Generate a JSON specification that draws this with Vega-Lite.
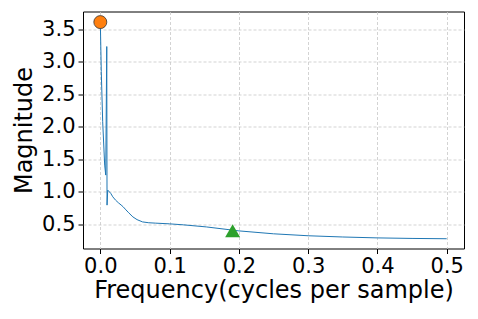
{
  "$schema": "https://vega.github.io/schema/vega-lite/v6.json",
  "autosize": "none",
  "width": 381,
  "height": 237,
  "padding": {"left": 83, "top": 11.5, "right": 14, "bottom": 70.5},
  "background": "white",
  "config": {
    "view": {"stroke": "black", "strokeWidth": 1},
    "font": "DejaVu Sans",
    "axis": {
      "domain": false,
      "grid": true,
      "gridColor": "#c8c8c8",
      "gridDash": [3, 2],
      "gridWidth": 0.8,
      "tickColor": "black",
      "tickSize": 5,
      "tickWidth": 1,
      "labelFont": "DejaVu Sans",
      "labelFontSize": 21,
      "labelColor": "black",
      "labelOverlap": false,
      "labelFlush": false,
      "titleFont": "DejaVu Sans",
      "titleFontSize": 24,
      "titleFontWeight": "normal",
      "titleColor": "black"
    }
  },
  "datasets": {
    "curve": [
      {"f": 0, "m": 3.608},
      {"f": 0.0014, "m": 2.847},
      {"f": 0.0034, "m": 2.076},
      {"f": 0.0063, "m": 1.409},
      {"f": 0.0078, "m": 1.255},
      {"f": 0.0093, "m": 3.232},
      {"f": 0.0097, "m": 0.793},
      {"f": 0.0107, "m": 1.024},
      {"f": 0.015, "m": 0.975},
      {"f": 0.018, "m": 0.921},
      {"f": 0.022, "m": 0.87},
      {"f": 0.026, "m": 0.83},
      {"f": 0.03, "m": 0.795},
      {"f": 0.033, "m": 0.767},
      {"f": 0.037, "m": 0.72},
      {"f": 0.041, "m": 0.675},
      {"f": 0.047, "m": 0.612},
      {"f": 0.053, "m": 0.57},
      {"f": 0.061, "m": 0.535},
      {"f": 0.07, "m": 0.522},
      {"f": 0.08, "m": 0.516},
      {"f": 0.1, "m": 0.505},
      {"f": 0.12, "m": 0.49},
      {"f": 0.153, "m": 0.458},
      {"f": 0.2, "m": 0.397},
      {"f": 0.25, "m": 0.352},
      {"f": 0.3, "m": 0.322},
      {"f": 0.35, "m": 0.303},
      {"f": 0.4, "m": 0.289},
      {"f": 0.45, "m": 0.281},
      {"f": 0.5, "m": 0.276}
    ],
    "peak": [{"f": 0, "m": 3.608}],
    "mark2": [{"f": 0.191, "m": 0.4}]
  },
  "layer": [
    {
      "data": {"name": "curve"},
      "mark": {"type": "line", "color": "#1f77b4", "strokeWidth": 1},
      "encoding": {
        "x": {"field": "f", "type": "quantitative", "scale": {"domain": [-0.025, 0.525], "nice": false, "zero": false},
              "axis": {"tickCount": 6, "format": ".1f", "title": "Frequency(cycles per sample)", "labelPadding": 2, "titlePadding": 2}},
        "y": {"field": "m", "type": "quantitative", "scale": {"domain": [0.126, 3.771], "nice": false, "zero": false},
              "axis": {"tickCount": 8, "tickMinStep": 0.5, "format": ".1f", "title": "Magnitude", "labelPadding": 3, "titlePadding": 5}}
      }
    },
    {
      "data": {"name": "peak"},
      "mark": {"type": "point", "shape": "circle", "filled": true, "color": "#ff7f0e", "stroke": "#333333", "strokeWidth": 0.8, "size": 168, "opacity": 1},
      "encoding": {
        "x": {"field": "f", "type": "quantitative"},
        "y": {"field": "m", "type": "quantitative"}
      }
    },
    {
      "data": {"name": "mark2"},
      "mark": {"type": "point", "shape": "triangle-up", "filled": true, "color": "#2ca02c", "size": 225, "opacity": 1},
      "encoding": {
        "x": {"field": "f", "type": "quantitative"},
        "y": {"field": "m", "type": "quantitative"}
      }
    }
  ]
}
